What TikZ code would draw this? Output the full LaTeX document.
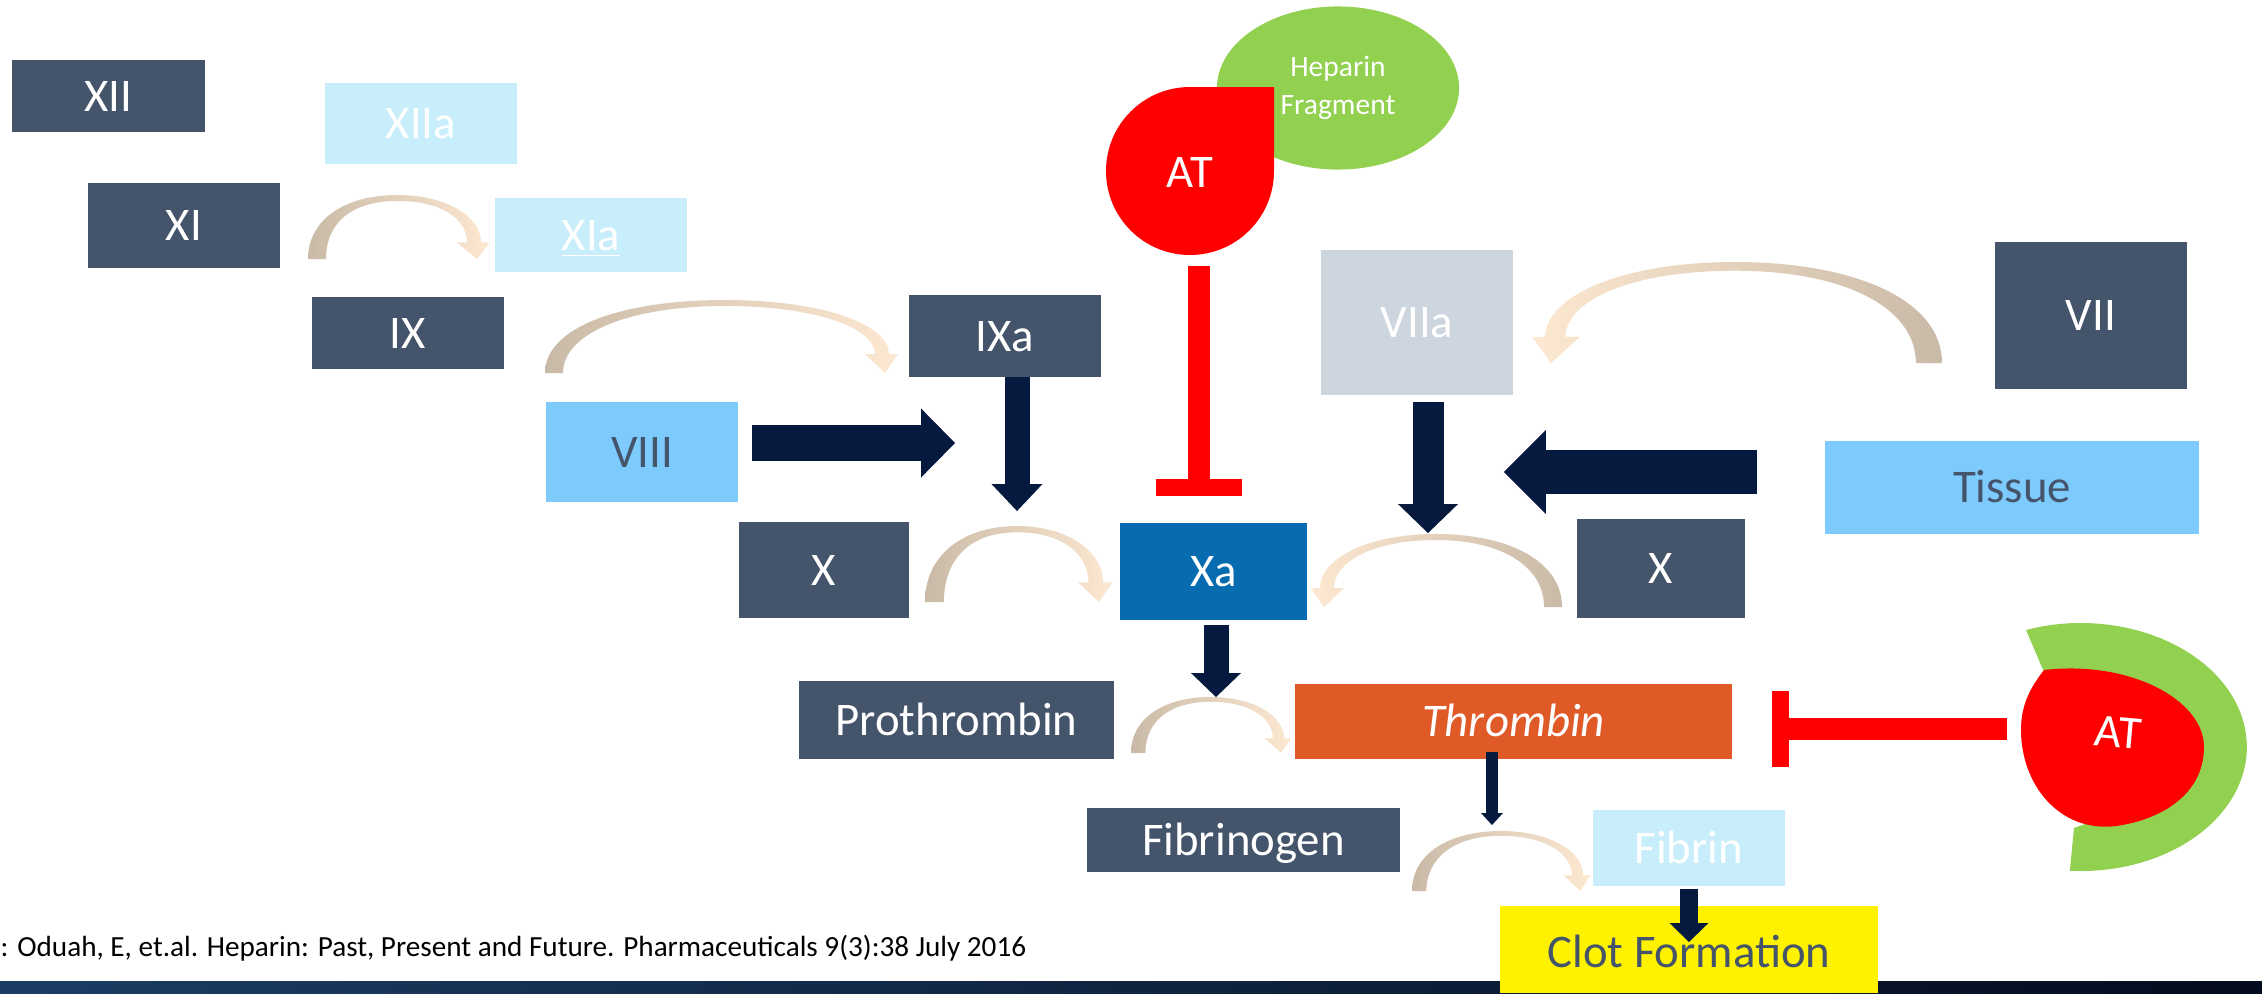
\documentclass[tikz,border=0pt]{standalone}
\usepackage{fontspec}
\setmainfont{Carlito}
\usetikzlibrary{arrows.meta,shapes.geometric}

\definecolor{slatec}{HTML}{44546A}
\definecolor{paleblue}{HTML}{C9EEFB}
\definecolor{skyblue}{HTML}{7DCBFC}
\definecolor{greyblue}{HTML}{CDD5DF}
\definecolor{xablue}{HTML}{066CAF}
\definecolor{thrombinc}{HTML}{E05A28}
\definecolor{navyc}{HTML}{061A40}
\definecolor{leaf}{HTML}{92D050}
\definecolor{tanc}{HTML}{C9BAA7}
\definecolor{peachc}{HTML}{FDE8D1}
\definecolor{barL}{HTML}{1B3D64}
\definecolor{barR}{HTML}{040B1E}

\tikzset{
  lbl/.style={font=\fontsize{13.3}{16}\selectfont, text height=8.6pt, text depth=0pt},
  sz/.style 2 args={minimum width=#1cm, minimum height=#2cm},
  fbox/.style={rectangle, inner sep=0pt, outer sep=0pt, lbl},
  dk/.style={fbox, fill=slatec, text=white},
  pale/.style={fbox, fill=paleblue, text=white},
  sky/.style={fbox, fill=skyblue, text=slatec},
  blk/.style n args={3}{draw=navyc, line width=#1,
    -{Triangle[length=#3, width=#2, line width=0pt]}},
  inhib/.style n args={2}{draw=red, line width=0.22cm,
    -{Rectangle[length=#1, width=#2, line width=0pt]}}
}

% curved conversion arrow: #1 foot x, #2 tip x, #3 base y, #4 top y, #5 thickness factor
\newcommand\carrow[5]{%
  \begingroup
  \pgfmathsetmacro\cvD{#2-(#1)}%
  \pgfmathsetmacro\cvH{#3-(#4)}%
  \pgfmathsetmacro\cvK{#5}%
  \pgfmathsetmacro\cvh{0.26*\cvH}%
  \ifdim #2pt>#1pt
    \def\cvS{1}\def\cvL{tanc}\def\cvR{peachc}%
  \else
    \def\cvS{-1}\def\cvL{peachc}\def\cvR{tanc}%
  \fi
  \shade[left color=\cvL, right color=\cvR]
    (#1,#3)
    .. controls (#1,{#3-0.62*\cvH}) and ({#1+0.22*\cvD},#4) .. ({#1+0.53*\cvD},#4)
    .. controls ({#1+0.82*\cvD},#4) and ({#2+4*\cvS*\cvK},{#3-\cvh-0.4*\cvH}) .. ({#2+4*\cvS*\cvK},{#3-\cvh})
    -- ({#2+13*\cvS*\cvK},{#3-\cvh})
    -- (#2,#3)
    -- ({#2-20*\cvS*\cvK},{#3-\cvh})
    -- ({#2-10*\cvS*\cvK},{#3-\cvh})
    .. controls ({#2-10*\cvS*\cvK},{#3-\cvh-0.35*\cvH}) and ({#1+0.8*\cvD},{#4+6*\cvK}) .. ({#1+0.53*\cvD},{#4+6*\cvK})
    .. controls ({#1+0.25*\cvD},{#4+6*\cvK}) and ({#1+18*\cvS*\cvK},{#3-0.55*\cvH}) .. ({#1+18*\cvS*\cvK},#3)
    -- cycle;
  \endgroup}

\begin{document}
\begin{tikzpicture}[x=0.01cm, y=-0.01cm]
\useasboundingbox (0,0) rectangle (2262,993);

% footer bar and reference line
\shade[left color=barL, middle color=barL, right color=barR] (0,981) rectangle (2262,993);
\node[anchor=base west, inner sep=0pt, font=\fontsize{8.3}{10}\selectfont] (cite) at (0,956)
  {: Oduah, E, et.al. Heparin: Past, Present and Future. Pharmaceuticals 9(3):38 July 2016};

% factor boxes
\node[dk, sz={1.93}{0.72}] (XII) at (108.5,96) {XII};
\node[pale, sz={1.92}{0.81}] (XIIa) at (421,123.5) {XIIa};
\node[dk, sz={1.92}{0.85}] (XI) at (184,225.5) {XI};
\node[pale, sz={1.92}{0.74}] (XIa) at (591,235) {\underline{XIa}};
\node[dk, sz={1.92}{0.72}] (IX) at (408,333) {IX};
\node[dk, sz={1.92}{0.82}] (IXa) at (1005,336) {IXa};
\node[sky, sz={1.92}{1.00}] (VIII) at (642,452) {VIII};
\node[dk, sz={1.70}{0.96}] (Xl) at (824,570) {X};
\node[fbox, fill=xablue, text=white, sz={1.87}{0.97}] (Xa) at (1213.5,571.5) {Xa};
\node[dk, sz={1.68}{0.99}] (Xr) at (1661,568.5) {X};
\node[fbox, fill=greyblue, text=white, sz={1.92}{1.45}] (VIIa) at (1417,322.5) {VIIa};
\node[dk, sz={1.92}{1.47}] (VII) at (2091,315.5) {VII};
\node[sky, sz={3.74}{0.93}] (Tissue) at (2012,487.5) {Tissue};
\node[dk, sz={3.15}{0.78}] (Pro) at (956.5,720) {Prothrombin};
\node[fbox, fill=thrombinc, text=white, sz={4.37}{0.75}] (Thr) at (1513.5,721.5) {\itshape Thrombin};
\node[dk, sz={3.13}{0.64}] (Fbg) at (1243.5,840) {Fibrinogen};
\node[pale, sz={1.92}{0.76}] (Fbn) at (1689,848) {Fibrin};
\node[fbox, fill=yellow, sz={3.78}{0.87}] (Clot) at (1689,949.5) {};
\node[lbl, text=slatec, anchor=base, inner sep=0pt] (ClotText) at (1689,967) {Clot Formation};

% conversion arrows
\carrow{308}{477}{259}{195}{1}
\carrow{545}{885}{373}{300}{1}
\carrow{925}{1099}{602}{526}{1.05}
\carrow{1562}{1324}{607}{534}{1}
\carrow{1942}{1551}{363}{262}{1.45}
\carrow{1131}{1281}{753}{697}{0.8}
\carrow{1412}{1580}{891}{831}{0.8}

% activation arrows
\draw[blk={0.25cm}{0.51cm}{0.27cm}] ([xshift=0.12cm]IXa.south) -- ++(0,134);
\draw[blk={0.35cm}{0.69cm}{0.34cm}] ([xshift=0.14cm, yshift=0.09cm]VIII.east) -- ++(203,0);
\draw[blk={0.31cm}{0.60cm}{0.29cm}] ([xshift=0.11cm, yshift=-0.07cm]VIIa.south) -- ++(0,131);
\draw[blk={0.43cm}{0.84cm}{0.42cm}] ([xshift=-0.68cm, yshift=0.155cm]Tissue.west) -- ++(-253,0);
\draw[blk={0.25cm}{0.50cm}{0.24cm}] ([xshift=0.025cm, yshift=-0.05cm]Xa.south) -- ++(0,72);
\draw[blk={0.12cm}{0.22cm}{0.12cm}] ([xshift=-0.215cm, yshift=0.07cm]Thr.south) -- ++(0,73);
\draw[blk={0.18cm}{0.39cm}{0.19cm}] ([yshift=-0.03cm]Fbn.south) -- ++(0,53);

% heparin-bound antithrombin acting on Xa
\node[ellipse, fill=leaf, minimum width=2.42cm, minimum height=1.63cm, inner sep=0pt,
  text=white, align=center, font=\fontsize{8.4}{10.8}\selectfont] (Hep) at (1338,88) {Heparin\\Fragment};
\fill[red] (1274,87) -- (1190,87) arc[start angle=270, end angle=0, radius=84] -- cycle;
\node[lbl, text=white, inner sep=0pt] (AT1) at (1190,172) {AT};
\coordinate (inhA) at (1199,266);
\coordinate (inhAend) at (1199,496);
\draw[inhib={0.17cm}{0.86cm}] (inhA) -- (inhAend);

% heparin-bound antithrombin acting on thrombin
\fill[leaf] (2026,630) arc[start angle=-109.3, end angle=93.8, x radius=166, y radius=124]
  -- (2074,828) -- (2110,815) -- (2140,760) -- (2044,672) -- cycle;
\fill[red] (2044,670) .. controls (2130,660) and (2204,700) .. (2204,747)
  .. controls (2204,795) and (2160,820) .. (2116,826)
  .. controls (2060,833) and (2021,785) .. (2021,730)
  .. controls (2021,705) and (2030,688) .. (2044,670) -- cycle;
\node[lbl, text=white, inner sep=0pt, rotate=-5] (AT2) at (2118,732) {AT};
\coordinate (inhB) at (2007,729);
\coordinate (inhBend) at (1772,729);
\draw[inhib={0.17cm}{0.76cm}] (inhB) -- (inhBend);
\end{tikzpicture}
\end{document}
